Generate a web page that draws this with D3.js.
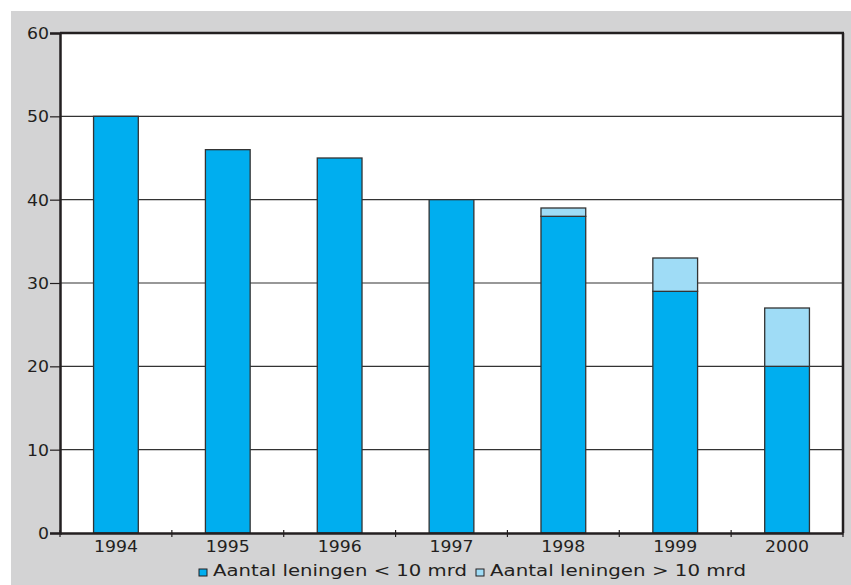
<!DOCTYPE html>
<html><head><meta charset="utf-8">
<script src="https://cdn.jsdelivr.net/npm/d3@7"></script>
<style>html,body{margin:0;padding:0;background:#fff;}svg{display:block;}</style>
</head><body>
<svg id="chart" width="851" height="585"></svg>
<script>
const years = ["1994","1995","1996","1997","1998","1999","2000"];
const below10 = [50,46,45,40,38,29,20];
const above10 = [0,0,0,0,1,4,7];
const seriesNames = ["Aantal leningen < 10 mrd","Aantal leningen > 10 mrd"];
const seriesColors = ["#00aeef","#9fdcf6"];
const yTicks = [0,10,20,30,40,50,60];

const svg = d3.select("#chart");
const W = 851, H = 585;
const m = {left:60, top:33, right:843, bottom:533};
const font = "'DejaVu Sans', sans-serif";

svg.append("rect").attr("x",11).attr("y",11).attr("width",W-11).attr("height",H-11).attr("fill","#d3d3d4");
svg.append("rect").attr("x",m.left).attr("y",m.top).attr("width",m.right-m.left).attr("height",m.bottom-m.top).attr("fill","#fff");

const x = d3.scaleBand().domain(years).range([m.left,m.right]).paddingInner(0.6).paddingOuter(0.3);
const xb = d3.scaleBand().domain(years).range([m.left,m.right]);
const y = d3.scaleLinear().domain([0,60]).range([m.bottom,m.top]);

// gridlines
svg.append("g").selectAll("line").data(yTicks.filter(d=>d>0 && d<60)).join("line")
  .attr("x1",m.left).attr("x2",m.right).attr("y1",d=>y(d)).attr("y2",d=>y(d))
  .attr("stroke","#333").attr("stroke-width",1.2);

const data = years.map((yr,i)=>({year:yr, s0:below10[i], s1:above10[i]}));
const stack = d3.stack().keys(["s0","s1"])(data);
stack.forEach((layer,li)=>{
  svg.append("g").selectAll("rect").data(layer.filter(d=>d[1]-d[0]>0)).join("rect")
    .attr("x",d=>x(d.data.year)).attr("width",x.bandwidth())
    .attr("y",d=>y(d[1])).attr("height",d=>y(d[0])-y(d[1]))
    .attr("fill",seriesColors[li]).attr("stroke","#333").attr("stroke-width",1.3);
});

// frame
svg.append("line").attr("x1",m.left).attr("x2",m.right+1).attr("y1",m.top).attr("y2",m.top).attr("stroke","#231f20").attr("stroke-width",2.5);
svg.append("line").attr("x1",m.right).attr("x2",m.right).attr("y1",m.top).attr("y2",m.bottom).attr("stroke","#231f20").attr("stroke-width",2.5);

// y axis
const yAxis = svg.append("g").attr("transform",`translate(${m.left},0)`)
  .call(d3.axisLeft(y).tickValues(yTicks).tickSize(10).tickPadding(1));
yAxis.select(".domain").attr("stroke","#231f20").attr("stroke-width",2.5);
yAxis.selectAll(".tick line").attr("stroke","#231f20").attr("stroke-width",1.2);
yAxis.selectAll("text").attr("font-family",font).attr("font-size",15.5).attr("fill","#231f20")
  .attr("dy","0.36em")
  .attr("textLength",d=>String(d).length*11).attr("lengthAdjust","spacingAndGlyphs");

// x axis
const xAxis = svg.append("g").attr("transform",`translate(0,${m.bottom})`)
  .call(d3.axisBottom(xb).tickSize(0).tickPadding(8));
xAxis.select(".domain").attr("stroke","#231f20").attr("stroke-width",2.5);
xAxis.selectAll("text").attr("font-family",font).attr("font-size",15.5).attr("fill","#231f20")
  .attr("textLength",44).attr("lengthAdjust","spacingAndGlyphs");
const bounds = years.map(d=>xb(d)).concat([m.right]);
svg.append("g").selectAll("line").data(bounds).join("line")
  .attr("x1",d=>d).attr("x2",d=>d).attr("y1",m.bottom-3).attr("y2",m.bottom+4)
  .attr("stroke","#231f20").attr("stroke-width",1.2);

// legend
const leg = [{x:199, tx:213, w:254},{x:476, tx:490, w:256}];
leg.forEach((l,i)=>{
  svg.append("rect").attr("x",l.x).attr("y",569).attr("width",8).attr("height",7)
    .attr("fill",seriesColors[i]).attr("stroke","#231f20").attr("stroke-width",1);
  svg.append("text").attr("x",l.tx).attr("y",576).text(seriesNames[i])
    .attr("font-family",font).attr("font-size",15).attr("fill","#231f20")
    .attr("textLength",l.w).attr("lengthAdjust","spacingAndGlyphs");
});
</script>
</body></html>
